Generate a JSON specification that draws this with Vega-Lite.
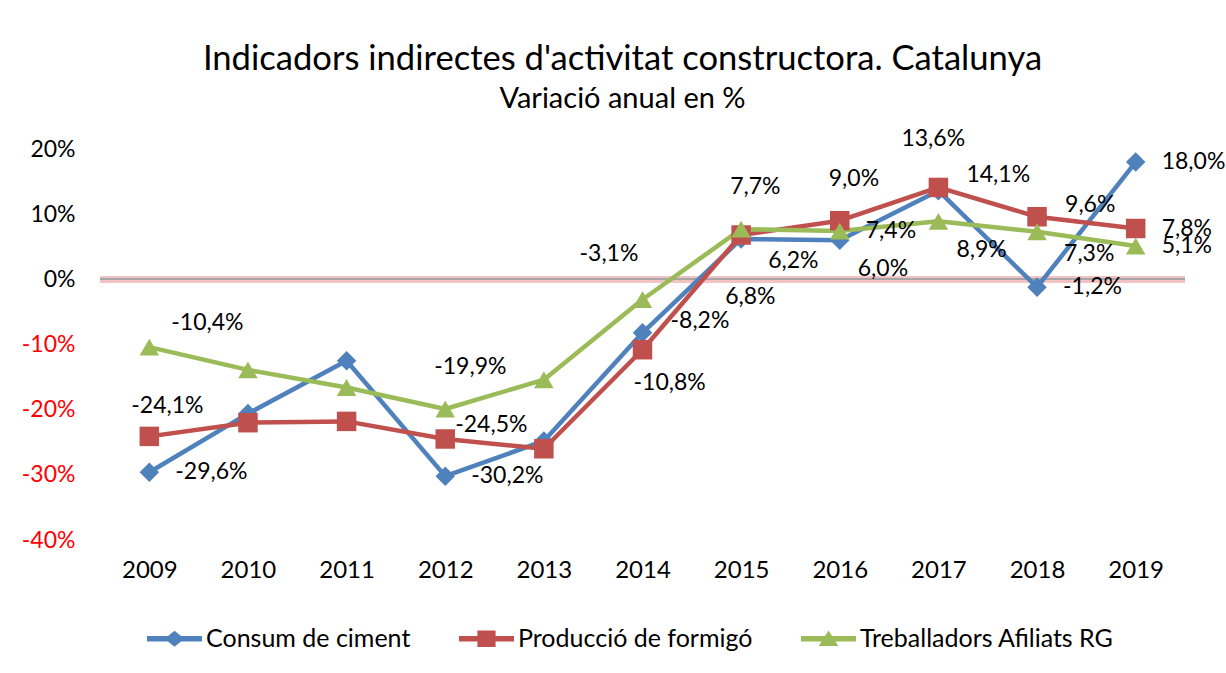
{
  "$schema": "https://vega.github.io/schema/vega-lite/v6.json",
  "width": 1085,
  "height": 391,
  "autosize": "none",
  "padding": {"left": 100, "top": 149, "right": 41, "bottom": 133},
  "background": "white",
  "config": {
    "locale": {"number": {"decimal": ",", "thousands": ".", "grouping": [3], "currency": ["", " €"], "minus": "-"}},
    "view": {"stroke": null},
    "font": "Lato"
  },
  "title": {
    "text": "Indicadors indirectes d'activitat constructora. Catalunya",
    "subtitle": "Variació anual en %",
    "font": "Lato",
    "subtitleFont": "Lato",
    "fontSize": 34.6,
    "fontWeight": "normal",
    "subtitleFontSize": 29,
    "subtitlePadding": 7,
    "color": "black",
    "subtitleColor": "black",
    "anchor": "middle",
    "dx": -20,
    "offset": 13
  },
  "data": {
    "values": [
      {"serie": "Consum de ciment", "any": "2009", "v": -0.296},
      {"serie": "Consum de ciment", "any": "2010", "v": -0.206},
      {"serie": "Consum de ciment", "any": "2011", "v": -0.125},
      {"serie": "Consum de ciment", "any": "2012", "v": -0.302},
      {"serie": "Consum de ciment", "any": "2013", "v": -0.248},
      {"serie": "Consum de ciment", "any": "2014", "v": -0.082},
      {"serie": "Consum de ciment", "any": "2015", "v": 0.062},
      {"serie": "Consum de ciment", "any": "2016", "v": 0.060},
      {"serie": "Consum de ciment", "any": "2017", "v": 0.136},
      {"serie": "Consum de ciment", "any": "2018", "v": -0.012},
      {"serie": "Consum de ciment", "any": "2019", "v": 0.180},
      {"serie": "Producció de formigó", "any": "2009", "v": -0.241},
      {"serie": "Producció de formigó", "any": "2010", "v": -0.220},
      {"serie": "Producció de formigó", "any": "2011", "v": -0.218},
      {"serie": "Producció de formigó", "any": "2012", "v": -0.245},
      {"serie": "Producció de formigó", "any": "2013", "v": -0.260},
      {"serie": "Producció de formigó", "any": "2014", "v": -0.108},
      {"serie": "Producció de formigó", "any": "2015", "v": 0.068},
      {"serie": "Producció de formigó", "any": "2016", "v": 0.090},
      {"serie": "Producció de formigó", "any": "2017", "v": 0.141},
      {"serie": "Producció de formigó", "any": "2018", "v": 0.096},
      {"serie": "Producció de formigó", "any": "2019", "v": 0.078},
      {"serie": "Treballadors Afiliats RG", "any": "2009", "v": -0.104},
      {"serie": "Treballadors Afiliats RG", "any": "2010", "v": -0.139},
      {"serie": "Treballadors Afiliats RG", "any": "2011", "v": -0.166},
      {"serie": "Treballadors Afiliats RG", "any": "2012", "v": -0.199},
      {"serie": "Treballadors Afiliats RG", "any": "2013", "v": -0.154},
      {"serie": "Treballadors Afiliats RG", "any": "2014", "v": -0.031},
      {"serie": "Treballadors Afiliats RG", "any": "2015", "v": 0.077},
      {"serie": "Treballadors Afiliats RG", "any": "2016", "v": 0.074},
      {"serie": "Treballadors Afiliats RG", "any": "2017", "v": 0.089},
      {"serie": "Treballadors Afiliats RG", "any": "2018", "v": 0.073},
      {"serie": "Treballadors Afiliats RG", "any": "2019", "v": 0.051}
    ]
  },
  "layer": [
    {
      "mark": {"type": "rule", "stroke": "#f3c3c3", "strokeWidth": 6},
      "encoding": {"y": {"datum": 0, "type": "quantitative", "scale": {"domain": [-0.4, 0.2], "nice": false}}}
    },
    {
      "mark": {"type": "rule", "stroke": "#a6a6a6", "strokeWidth": 1.5},
      "encoding": {"y": {"datum": 0, "type": "quantitative"}}
    },
    {
      "mark": {"type": "line", "strokeWidth": 4.5, "strokeJoin": "round", "strokeCap": "round"},
      "encoding": {
        "x": {"field": "any", "type": "ordinal", "title": null,
          "axis": {"labelFont": "Lato", "labelFontSize": 24, "labelColor": "black", "labelAngle": 0, "ticks": false, "domain": false, "labelPadding": 18}},
        "y": {"field": "v", "type": "quantitative", "title": null,
          "scale": {"domain": [-0.4, 0.2], "nice": false},
          "axis": {"values": [-0.4, -0.3, -0.2, -0.1, 0, 0.1, 0.2], "format": ".0%", "labelFont": "Lato", "labelFontSize": 23,
            "labelColor": {"condition": {"test": "datum.value < 0", "value": "#ff0000"}, "value": "black"},
            "ticks": false, "domain": false, "labelPadding": 25, "gridColor": "#a6a6a6", "gridWidth": 1.5}},
        "color": {"field": "serie", "type": "nominal",
          "scale": {"domain": ["Consum de ciment", "Producció de formigó", "Treballadors Afiliats RG"], "range": ["#4f81bd", "#c0504d", "#9bbb59"]},
          "legend": {"orient": "none", "legendX": 47, "legendY": 462, "direction": "horizontal", "title": null,
            "labelFont": "Lato", "labelFontSize": 25, "labelColor": "black", "labelLimit": 0, "symbolSize": 3025, "columnPadding": 48, "labelOffset": 4,
            "encode": {"symbols": {"update": {
              "shape": {"signal": "datum.label == 'Consum de ciment' ? 'M-1,-0.1H1V0.1H-1Z M0,-0.29L0.36,0L0,0.29L-0.36,0Z' : datum.label == 'Producció de formigó' ? 'M-1,-0.1H1V0.1H-1Z M-0.33,-0.3H0.33V0.3H-0.33Z' : 'M-1,-0.1H1V0.1H-1Z M0,-0.3L0.36,0.26H-0.36Z'"},
              "fill": {"scale": "color", "field": "value"},
              "stroke": {"value": "transparent"},
              "strokeWidth": {"value": 0},
              "opacity": {"value": 1},
              "fillOpacity": {"value": 1}
            }}}}
        }
      }
    },
    {
      "transform": [{"filter": "datum.serie == 'Consum de ciment'"}],
      "mark": {"type": "point", "filled": true, "opacity": 1, "size": 380, "shape": "diamond", "color": "#4f81bd"},
      "encoding": {"x": {"field": "any", "type": "ordinal"}, "y": {"field": "v", "type": "quantitative"}}
    },
    {
      "transform": [{"filter": "datum.serie == 'Producció de formigó'"}],
      "mark": {"type": "point", "filled": true, "opacity": 1, "size": 380, "shape": "square", "color": "#c0504d"},
      "encoding": {"x": {"field": "any", "type": "ordinal"}, "y": {"field": "v", "type": "quantitative"}}
    },
    {
      "transform": [{"filter": "datum.serie == 'Treballadors Afiliats RG'"}],
      "mark": {"type": "point", "filled": true, "opacity": 1, "size": 380, "shape": "triangle-up", "color": "#9bbb59"},
      "encoding": {"x": {"field": "any", "type": "ordinal"}, "y": {"field": "v", "type": "quantitative"}}
    },
    {
      "transform": [{"filter": "(datum.serie == 'Consum de ciment' && (datum.any == '2009' || datum.any == '2012' || datum.any == '2018' || datum.any == '2019')) || (datum.serie == 'Producció de formigó' && datum.any == '2019') || (datum.serie == 'Treballadors Afiliats RG' && (datum.any == '2016' || datum.any == '2019'))"}],
      "mark": {"type": "text", "align": "left", "baseline": "middle", "dx": 26, "dy": 0, "fontSize": 23, "font": "Lato", "color": "black"},
      "encoding": {"x": {"field": "any", "type": "ordinal"}, "y": {"field": "v", "type": "quantitative"}, "text": {"field": "v", "type": "quantitative", "format": ".1%"}}
    },
    {
      "transform": [{"filter": "(datum.serie == 'Consum de ciment' && datum.any == '2014') || (datum.serie == 'Producció de formigó' && (datum.any == '2017' || datum.any == '2018'))"}],
      "mark": {"type": "text", "align": "left", "baseline": "middle", "dx": 28, "dy": -12, "fontSize": 23, "font": "Lato", "color": "black"},
      "encoding": {"x": {"field": "any", "type": "ordinal"}, "y": {"field": "v", "type": "quantitative"}, "text": {"field": "v", "type": "quantitative", "format": ".1%"}}
    },
    {
      "transform": [{"filter": "datum.serie == 'Producció de formigó' && datum.any == '2012'"}],
      "mark": {"type": "text", "align": "left", "baseline": "middle", "dx": 10, "dy": -14, "fontSize": 23, "font": "Lato", "color": "black"},
      "encoding": {"x": {"field": "any", "type": "ordinal"}, "y": {"field": "v", "type": "quantitative"}, "text": {"field": "v", "type": "quantitative", "format": ".1%"}}
    },
    {
      "transform": [{"filter": "(datum.serie == 'Consum de ciment' && datum.any == '2015') || (datum.serie == 'Treballadors Afiliats RG' && datum.any == '2018')"}],
      "mark": {"type": "text", "align": "left", "baseline": "middle", "dx": 27, "dy": 22, "fontSize": 23, "font": "Lato", "color": "black"},
      "encoding": {"x": {"field": "any", "type": "ordinal"}, "y": {"field": "v", "type": "quantitative"}, "text": {"field": "v", "type": "quantitative", "format": ".1%"}}
    },
    {
      "transform": [{"filter": "(datum.serie == 'Consum de ciment' && datum.any == '2016') || (datum.serie == 'Treballadors Afiliats RG' && datum.any == '2017')"}],
      "mark": {"type": "text", "align": "left", "baseline": "middle", "dx": 18, "dy": 29, "fontSize": 23, "font": "Lato", "color": "black"},
      "encoding": {"x": {"field": "any", "type": "ordinal"}, "y": {"field": "v", "type": "quantitative"}, "text": {"field": "v", "type": "quantitative", "format": ".1%"}}
    },
    {
      "transform": [{"filter": "(datum.serie == 'Treballadors Afiliats RG' && (datum.any == '2012' || datum.any == '2015')) || (datum.serie == 'Producció de formigó' && datum.any == '2016')"}],
      "mark": {"type": "text", "align": "left", "baseline": "middle", "dx": -11, "dy": -42, "fontSize": 23, "font": "Lato", "color": "black"},
      "encoding": {"x": {"field": "any", "type": "ordinal"}, "y": {"field": "v", "type": "quantitative"}, "text": {"field": "v", "type": "quantitative", "format": ".1%"}}
    },
    {
      "transform": [{"filter": "datum.serie == 'Treballadors Afiliats RG' && datum.any == '2009'"}],
      "mark": {"type": "text", "align": "left", "baseline": "middle", "dx": 22, "dy": -24, "fontSize": 23, "font": "Lato", "color": "black"},
      "encoding": {"x": {"field": "any", "type": "ordinal"}, "y": {"field": "v", "type": "quantitative"}, "text": {"field": "v", "type": "quantitative", "format": ".1%"}}
    },
    {
      "transform": [{"filter": "datum.serie == 'Producció de formigó' && datum.any == '2009'"}],
      "mark": {"type": "text", "align": "left", "baseline": "middle", "dx": -18, "dy": -30, "fontSize": 23, "font": "Lato", "color": "black"},
      "encoding": {"x": {"field": "any", "type": "ordinal"}, "y": {"field": "v", "type": "quantitative"}, "text": {"field": "v", "type": "quantitative", "format": ".1%"}}
    },
    {
      "transform": [{"filter": "datum.serie == 'Treballadors Afiliats RG' && datum.any == '2014'"}],
      "mark": {"type": "text", "align": "left", "baseline": "middle", "dx": -63, "dy": -46, "fontSize": 23, "font": "Lato", "color": "black"},
      "encoding": {"x": {"field": "any", "type": "ordinal"}, "y": {"field": "v", "type": "quantitative"}, "text": {"field": "v", "type": "quantitative", "format": ".1%"}}
    },
    {
      "transform": [{"filter": "datum.serie == 'Producció de formigó' && datum.any == '2014'"}],
      "mark": {"type": "text", "align": "left", "baseline": "middle", "dx": -9, "dy": 33, "fontSize": 23, "font": "Lato", "color": "black"},
      "encoding": {"x": {"field": "any", "type": "ordinal"}, "y": {"field": "v", "type": "quantitative"}, "text": {"field": "v", "type": "quantitative", "format": ".1%"}}
    },
    {
      "transform": [{"filter": "datum.serie == 'Producció de formigó' && datum.any == '2015'"}],
      "mark": {"type": "text", "align": "left", "baseline": "middle", "dx": -16, "dy": 62, "fontSize": 23, "font": "Lato", "color": "black"},
      "encoding": {"x": {"field": "any", "type": "ordinal"}, "y": {"field": "v", "type": "quantitative"}, "text": {"field": "v", "type": "quantitative", "format": ".1%"}}
    },
    {
      "transform": [{"filter": "datum.serie == 'Consum de ciment' && datum.any == '2017'"}],
      "mark": {"type": "text", "align": "left", "baseline": "middle", "dx": -37, "dy": -52, "fontSize": 23, "font": "Lato", "color": "black"},
      "encoding": {"x": {"field": "any", "type": "ordinal"}, "y": {"field": "v", "type": "quantitative"}, "text": {"field": "v", "type": "quantitative", "format": ".1%"}}
    }
  ]
}
